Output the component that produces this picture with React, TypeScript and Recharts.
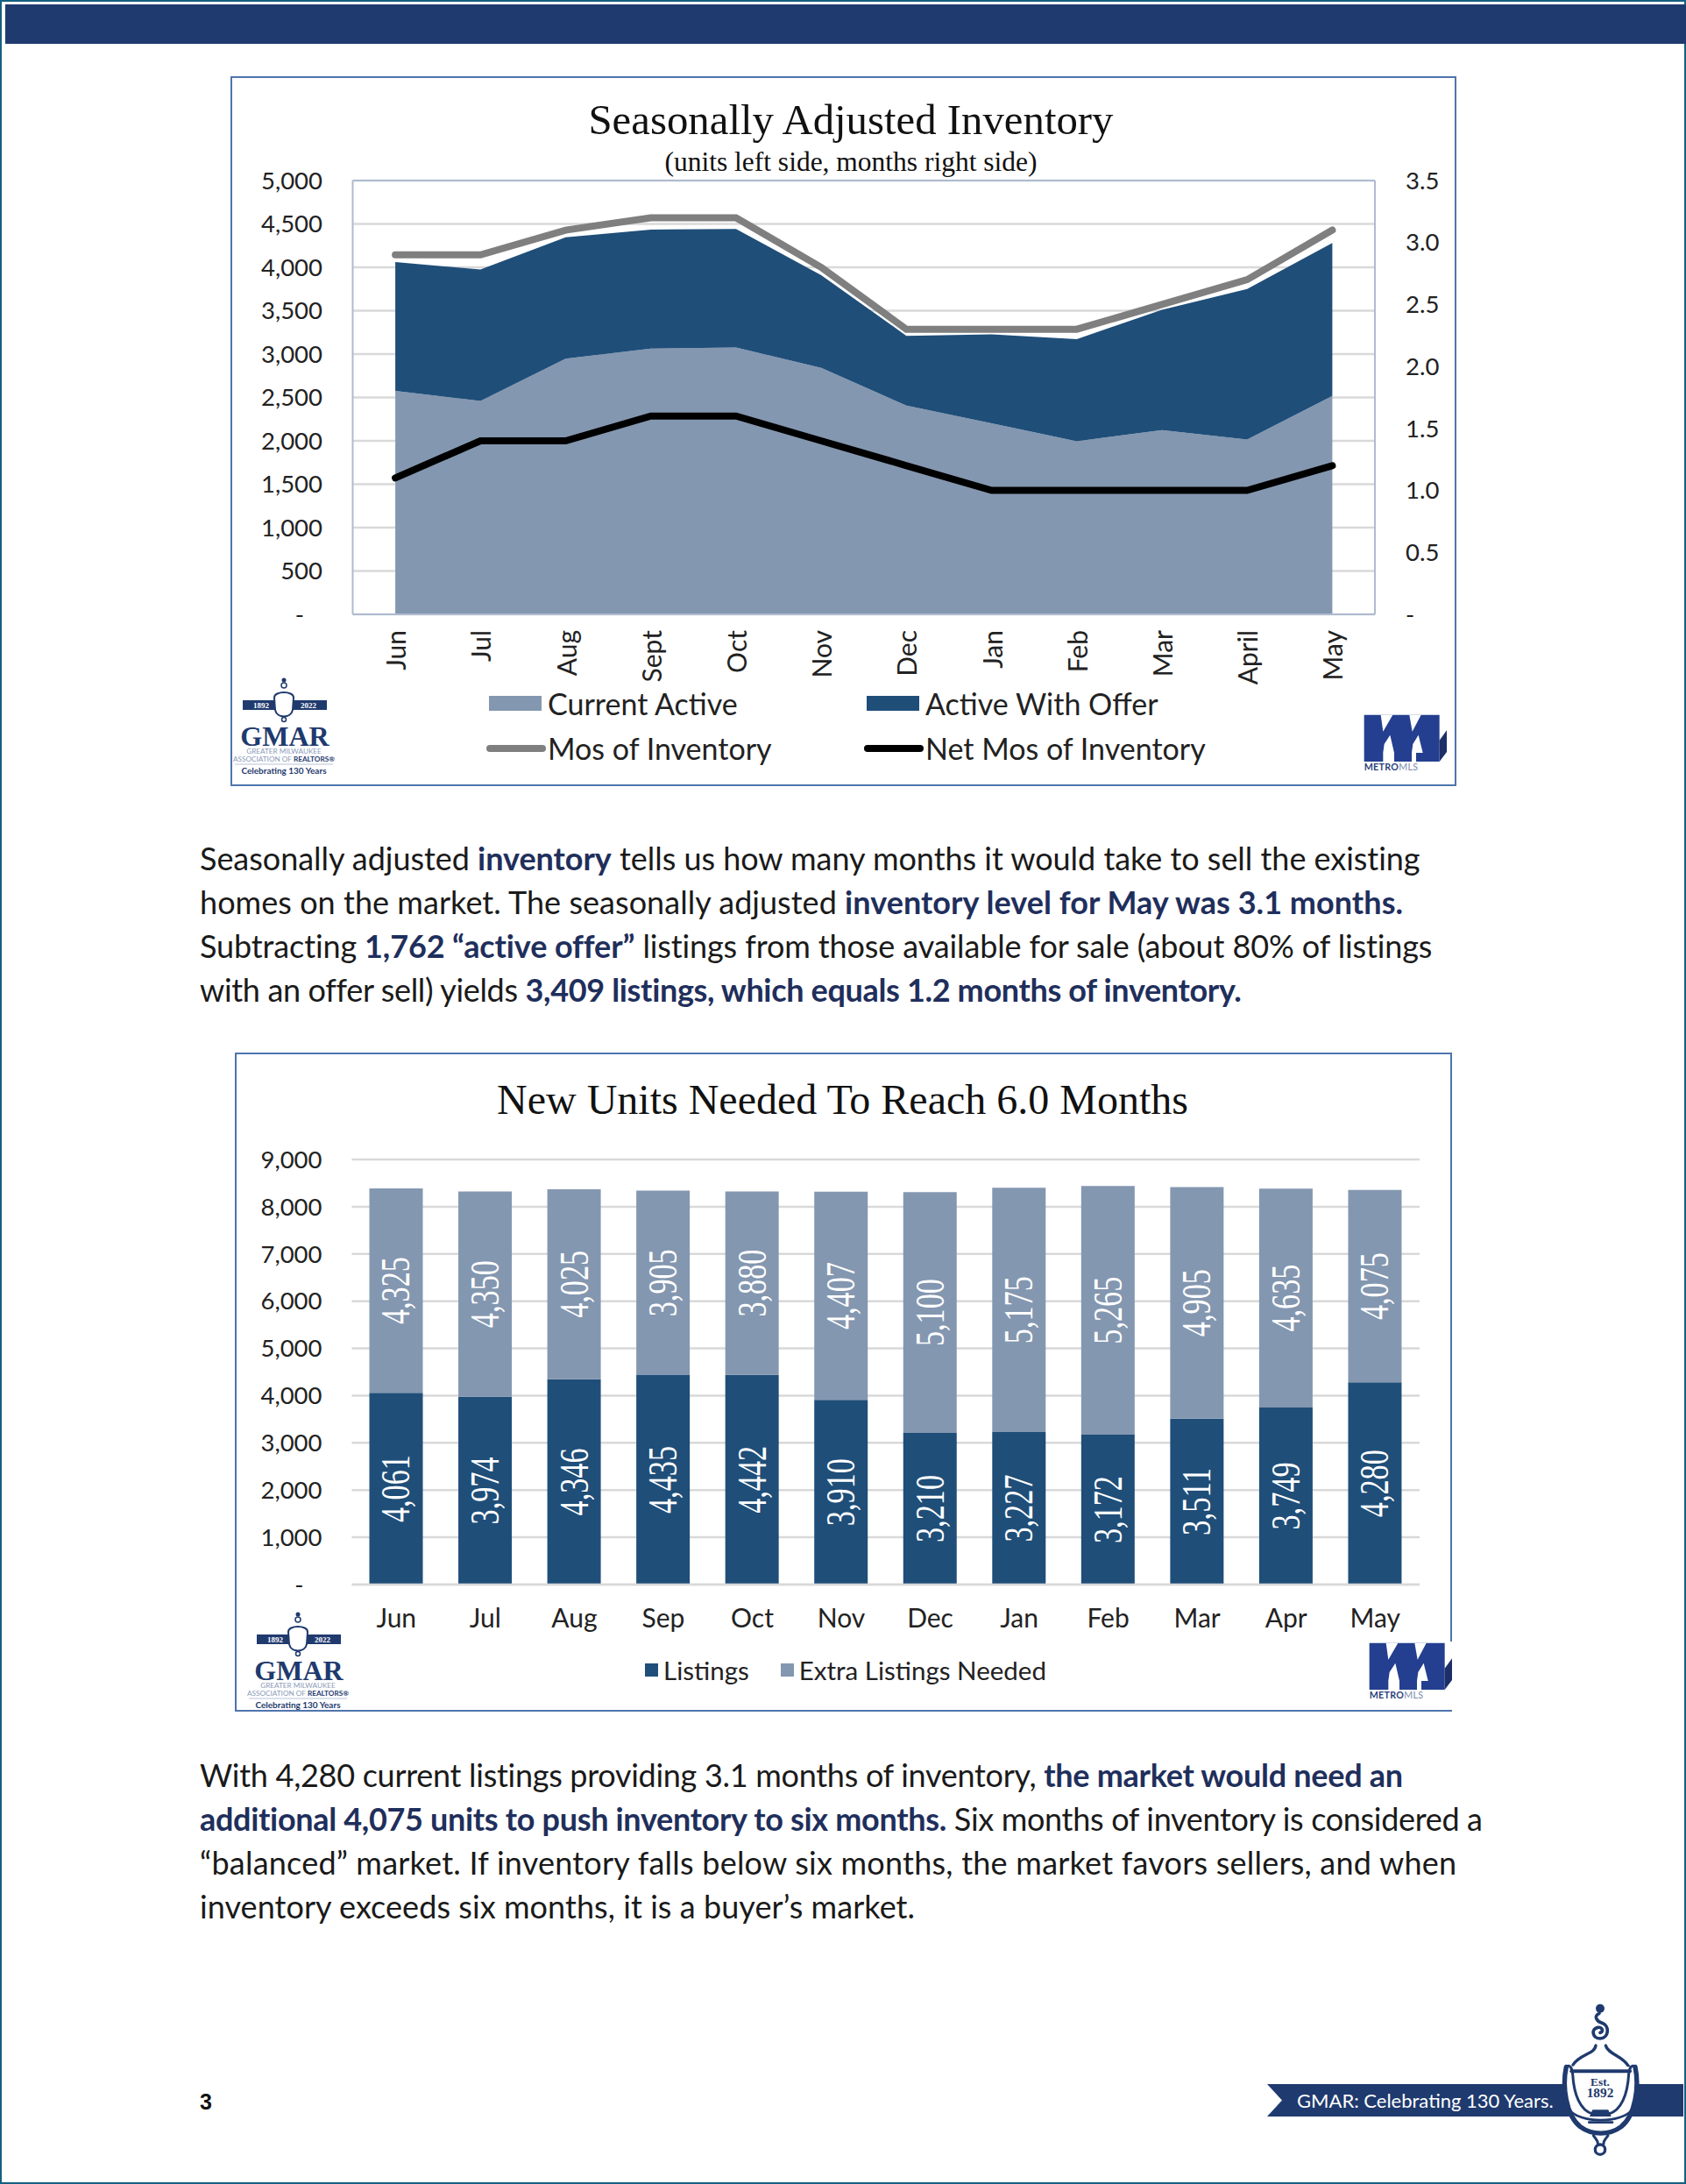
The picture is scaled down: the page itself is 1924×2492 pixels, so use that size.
import React from "react";
import {
  ComposedChart,
  BarChart,
  Area,
  Line,
  Bar,
  LabelList,
  XAxis,
  YAxis,
  CartesianGrid,
  ReferenceLine,
  Legend,
} from "recharts";

// Page 3 of the GMAR housing report: two charts plus the text around them

const inventoryMonths = ["Jun", "Jul", "Aug", "Sept", "Oct", "Nov", "Dec", "Jan", "Feb", "Mar", "April", "May"];
const currentActive = [2577, 2460, 2946, 3064, 3075, 2840, 2406, 2203, 1995, 2123, 2016, 2518];
const activeWithOffer = [1484, 1514, 1400, 1371, 1367, 1070, 804, 1024, 1177, 1388, 1733, 1762];
const mosOfInventory = [2.9, 2.9, 3.1, 3.2, 3.2, 2.8, 2.3, 2.3, 2.3, 2.5, 2.7, 3.1];
const netMosOfInventory = [1.1, 1.4, 1.4, 1.6, 1.6, 1.4, 1.2, 1.0, 1.0, 1.0, 1.0, 1.2];
const unitTicks = [0, 500, 1000, 1500, 2000, 2500, 3000, 3500, 4000, 4500, 5000];
const monthTicks = [0, 0.5, 1, 1.5, 2, 2.5, 3, 3.5];

const neededMonths = ["Jun", "Jul", "Aug", "Sep", "Oct", "Nov", "Dec", "Jan", "Feb", "Mar", "Apr", "May"];
const listings = [4061, 3974, 4346, 4435, 4442, 3910, 3210, 3227, 3172, 3511, 3749, 4280];
const extraListings = [4325, 4350, 4025, 3905, 3880, 4407, 5100, 5175, 5265, 4905, 4635, 4075];
const neededTicks = [0, 1000, 2000, 3000, 4000, 5000, 6000, 7000, 8000, 9000];

const inventoryData = inventoryMonths.map((name, i) => ({
  name,
  active: currentActive[i],
  offer: activeWithOffer[i],
  mos: mosOfInventory[i],
  net: netMosOfInventory[i],
}));
const neededData = neededMonths.map((name, i) => ({ name, listings: listings[i], extra: extraListings[i] }));

const NAVY = "#1F3A6E";
const DARK = "#1F4E79";
const LIGHT = "#8497B0";
const GRID = "#D9D9D9";
const FRAME = "#4F74AE";
const AXIS_FONT = "Lato, sans-serif";
const BODY_FONT = "Lato, sans-serif";
const TITLE_FONT = '"Liberation Serif", serif';

const paragraphOne = [
  [["Seasonally adjusted ", 0], ["inventory", 1], [" tells us how many months it would take to sell the existing", 0]],
  [["homes on the market. The seasonally adjusted ", 0], ["inventory level for May was 3.1 months.", 1]],
  [["Subtracting ", 0], ["1,762 \u201Cactive offer\u201D", 1], [" listings from those available for sale (about 80% of listings", 0]],
  [["with an offer sell) yields ", 0], ["3,409 listings, which equals 1.2 months of inventory.", 1]],
] as [string, number][][];
const paragraphTwo = [
  [["With 4,280 current listings providing 3.1 months of inventory, ", 0], ["the market would need an", 1]],
  [["additional 4,075 units to push inventory to six months.", 1], [" Six months of inventory is considered a", 0]],
  [["\u201Cbalanced\u201D market. If inventory falls below six months, the market favors sellers, and when", 0]],
  [["inventory exceeds six months, it is a buyer\u2019s market.", 0]],
] as [string, number][][];
// Lato is not the report's font, so each line is nudged to end where the original does
const paragraphOneSpacing = [-0.035, 0.04, -0.12, -0.34];
const paragraphTwoSpacing = [-0.29, -0.32, 0.23, 0.06];

// the source uses an accounting format: zero is a dash set back from the edge
const dashZero = (v: number, digits: number, pad = "") =>
  v === 0 ? "-" + pad : v.toLocaleString("en-US", { minimumFractionDigits: digits, maximumFractionDigits: digits });

function Paragraph({ lines, spacing, top }: { lines: [string, number][][]; spacing: number[]; top: number }) {
  return (
    <>
      {lines.map((runs, i) => (
        <div
          key={i}
          style={{
            position: "absolute",
            left: 228,
            top: top + i * 50.3,
            lineHeight: "50px",
            whiteSpace: "nowrap",
            fontFamily: BODY_FONT,
            fontSize: 36,
            letterSpacing: spacing[i],
            color: "#1a1a1a",
          }}
        >
          {runs.map(([t, b], j) =>
            b ? (
              <b key={j} style={{ color: "#1F2F5C" }}>
                {t}
              </b>
            ) : (
              <span key={j}>{t}</span>
            )
          )}
        </div>
      ))}
    </>
  );
}

function ChartTitle({ text, center, top, size }: { text: string; center: number; top: number; size: number }) {
  return (
    <div
      style={{
        position: "absolute",
        left: center - 500,
        width: 1000,
        top,
        textAlign: "center",
        fontFamily: TITLE_FONT,
        fontSize: size,
        lineHeight: 1.2,
        color: "#111",
        whiteSpace: "nowrap",
      }}
    >
      {text}
    </div>
  );
}

function GmarLogo({ left, top }: { left: number; top: number }) {
  return (
    <svg style={{ position: "absolute", left, top }} width={150} height={130}>
      <rect x={27} y={39} width={96} height={11} fill={NAVY} />
      <text x={48} y={48} textAnchor="middle" fontSize={9} fill="#fff" fontWeight={700} fontFamily={TITLE_FONT}>1892</text>
      <text x={102} y={48} textAnchor="middle" fontSize={9} fill="#fff" fontWeight={700} fontFamily={TITLE_FONT}>2022</text>
      <circle cx={74} cy={16} r={2.5} fill={NAVY} />
      <circle cx={74} cy={22} r={3} fill="none" stroke={NAVY} strokeWidth={1.5} />
      <path d="M63 36 C63 28 85 28 85 36 L84 50 C82 60 66 60 64 50 Z" fill="#fff" stroke={NAVY} strokeWidth={2} />
      <circle cx={74} cy={61} r={2.5} fill="none" stroke={NAVY} strokeWidth={1.5} />
      <text x={75} y={91} textAnchor="middle" fontSize={32} fontWeight={700} fill={NAVY} fontFamily={TITLE_FONT}>GMAR</text>
      <text x={74} y={100} textAnchor="middle" fontSize={8.2} fill="#8A9AB8" fontFamily={AXIS_FONT}>GREATER MILWAUKEE</text>
      <text x={74} y={109} textAnchor="middle" fontSize={8.2} fill="#8A9AB8" fontFamily={AXIS_FONT}>
        ASSOCIATION OF <tspan fontWeight={700} fill={NAVY}>REALTORS®</tspan>
      </text>
      <line x1={18} x2={130} y1={112} y2={112} stroke="#B8C4D8" strokeWidth={1} />
      <text x={74} y={123} textAnchor="middle" fontSize={10} fontWeight={700} fill={NAVY} fontFamily={AXIS_FONT}>Celebrating 130 Years</text>
    </svg>
  );
}

function MetroLogo({ left, top, width, blank }: { left: number; top: number; width: number; blank?: boolean }) {
  return (
    <svg style={{ position: "absolute", left, top, background: blank ? "#fff" : "transparent" }} width={width} height={78} viewBox={`0 0 ${width * 3} 234`}>
      <path d="M47 5 H305 V135 H47 Z" fill="#243F8F" />
      <path d="M305 92 L330 58 V132 L305 165 Z" fill="#1D2F66" />
      <path d="M305 135 V165 H225 V135 Z" fill="#243F8F" />
      <path d="M104 5 H145 L112 62 Z" fill="#fff" />
      <path d="M202 5 H242 L212 62 Z" fill="#fff" />
      <path d="M112 135 L116 105 L136 74 L150 135 Z" fill="#fff" />
      <path d="M210 135 L214 105 L233 74 L248 135 Z" fill="#fff" />
      <rect x={47} y={135} width={65} height={30} fill="#243F8F" />
      <rect x={150} y={135} width={60} height={30} fill="#243F8F" />
      <text x={47} y={194} fontSize={32} fontWeight={700} fill="#2A3F7A" fontFamily={AXIS_FONT} letterSpacing={1}>
        METRO<tspan fontWeight={400} fill="#7A8AAD">MLS</tspan>
      </text>
    </svg>
  );
}

function Knocker() {
  const s = { fill: "none", stroke: NAVY, strokeLinecap: "round" as const };
  return (
    <svg style={{ position: "absolute", left: 1760, top: 2280 }} width={130} height={190} viewBox="0 0 390 570">
      <circle cx={198} cy={35} r={15} fill={NAVY} />
      <path d="M195 52 C172 62 190 82 205 85 C232 95 228 136 198 138 C172 138 165 105 190 100 C205 98 212 115 198 118" {...s} strokeWidth={11} />
      <path d="M183 162 C180 192 128 190 105 228" {...s} strokeWidth={10} />
      <path d="M217 162 C225 192 272 195 295 232" {...s} strokeWidth={10} />
      <path d="M82 235 C68 300 80 400 130 440 C170 470 230 470 270 440 C320 400 332 300 318 235" {...s} strokeWidth={16} fill="#fff" />
      <path d="M82 235 C95 225 102 240 104 260 C108 330 130 385 172 396" {...s} strokeWidth={9} />
      <path d="M318 235 C305 225 298 240 296 260 C292 330 270 385 228 396" {...s} strokeWidth={9} />
      <path d="M100 250 H300" {...s} strokeWidth={12} />
      <path d="M172 382 H226 L236 405 H162 Z" fill={NAVY} />
      <path d="M92 380 C125 430 275 430 308 380" {...s} strokeWidth={8} />
      <path d="M160 425 H240" {...s} strokeWidth={8} />
      <path d="M175 470 C185 485 190 485 190 498 M225 470 C215 485 210 485 210 498" {...s} strokeWidth={9} />
      <circle cx={198} cy={518} r={17} {...s} strokeWidth={10} />
      <text x={198} y={300} textAnchor="middle" fontSize={40} fontWeight={700} fill={NAVY} fontFamily={TITLE_FONT}>Est.</text>
      <text x={198} y={340} textAnchor="middle" fontSize={46} fontWeight={700} fill={NAVY} fontFamily={TITLE_FONT}>1892</text>
    </svg>
  );
}

function RotatedMonth({ x, y, payload }: any) {
  return (
    <text
      x={x}
      y={y}
      transform={`rotate(-90 ${x} ${y})`}
      textAnchor="end"
      dominantBaseline="central"
      fontSize={30}
      fontFamily={AXIS_FONT}
      fill="#222"
    >
      {payload.value}
    </text>
  );
}

function InventoryLegend({ payload }: any) {
  return (
    <div style={{ display: "grid", gridTemplateColumns: "431px 431px", rowGap: 14, fontFamily: AXIS_FONT, fontSize: 34, color: "#222" }}>
      {(payload || []).map((p: any) => {
        const isLine = p.type === "line";
        return (
          <div key={p.value} style={{ display: "flex", alignItems: "center", height: 37 }}>
            <span
              style={{
                display: "inline-block",
                width: isLine ? 68 : 60,
                height: isLine ? 8 : 17,
                marginLeft: isLine ? -3 : 0,
                marginRight: isLine ? 2 : 7,
                borderRadius: isLine ? 4 : 0,
                background: p.color,
              }}
            />
            <span>{p.value}</span>
          </div>
        );
      })}
    </div>
  );
}

function NeededLegend({ payload }: any) {
  return (
    <div style={{ display: "flex", fontFamily: AXIS_FONT, fontSize: 29.5, color: "#222" }}>
      {(payload || []).map((p: any) => (
        <div key={p.value} style={{ display: "flex", alignItems: "center", marginRight: 36 }}>
          <span style={{ display: "inline-block", width: 15, height: 15, marginRight: 6, background: p.color }} />
          <span>{p.value}</span>
        </div>
      ))}
    </div>
  );
}

function BarValue({ x, y, width, height, value }: any) {
  const cx = x + width / 2;
  const cy = y + height / 2;
  return (
    <text
      x={cx}
      y={cy}
      transform={`rotate(-90 ${cx} ${cy})`}
      textAnchor="middle"
      dominantBaseline="central"
      fontFamily={TITLE_FONT}
      fontSize={46}
      textLength={77}
      lengthAdjust="spacingAndGlyphs"
      fill="#fff"
    >
      {Number(value).toLocaleString("en-US")}
    </text>
  );
}

export default function App() {
  return (
    <div style={{ position: "absolute", left: 0, top: 0, width: 1924, height: 2492, background: "#fff", overflow: "hidden" }}>
      {/* page border and banner */}
      <div style={{ position: "absolute", inset: 0, border: "2.5px solid #156082", boxSizing: "border-box" }} />
      <div style={{ position: "absolute", left: 6, top: 5, width: 1918, height: 45, background: NAVY }} />

      {/* first chart */}
      <div style={{ position: "absolute", left: 263, top: 87, width: 1399, height: 810, border: `2.5px solid ${FRAME}`, boxSizing: "border-box" }} />
      <div style={{ position: "absolute", left: 263, top: 87 }}>
        <ComposedChart width={1399} height={810} data={inventoryData} margin={{ top: 119, right: 0, bottom: 0, left: 0 }}>
          <CartesianGrid vertical={false} stroke={GRID} strokeWidth={2.5} yAxisId="left" />
          <XAxis
            dataKey="name"
            scale="point"
            padding={{ left: 48.6, right: 48.6 }}
            height={196}
            axisLine={{ stroke: "#AEBBD0", strokeWidth: 2 }}
            tickLine={false}
            tickMargin={12}
            interval={0}
            tick={RotatedMonth}
          />
          <YAxis
            yAxisId="left"
            width={139.5}
            domain={[0, 5000]}
            ticks={unitTicks}
            interval={0}
            tickFormatter={(v: number) => dashZero(v, 0, "\u00A0\u00A0\u00A0")}
            axisLine={{ stroke: "#AEBBD0", strokeWidth: 2 }}
            tickLine={false}
            tickMargin={28.5}
            tick={{ fontSize: 27.5, fontFamily: AXIS_FONT, fill: "#222" }}
          />
          <YAxis
            yAxisId="right"
            orientation="right"
            width={93}
            domain={[0, 3.5]}
            ticks={monthTicks}
            interval={0}
            tickFormatter={(v: number) => dashZero(v, 1)}
            axisLine={{ stroke: "#AEBBD0", strokeWidth: 2 }}
            tickLine={false}
            tickMargin={29}
            tick={{ fontSize: 27.5, fontFamily: AXIS_FONT, fill: "#222" }}
          />
          <ReferenceLine yAxisId="left" y={5000} stroke="#AEBBD0" strokeWidth={2} />
          <Area yAxisId="left" dataKey="active" name="Current Active" legendType="rect" stackId="a" type="linear" stroke="none" fill={LIGHT} fillOpacity={1} isAnimationActive={false} />
          <Area yAxisId="left" dataKey="offer" name="Active With Offer" legendType="rect" stackId="a" type="linear" stroke="none" fill={DARK} fillOpacity={1} isAnimationActive={false} />
          <Line yAxisId="right" dataKey="mos" name="Mos of Inventory" type="linear" stroke="#7F7F7F" strokeWidth={8} strokeLinecap="round" dot={false} isAnimationActive={false} />
          <Line yAxisId="right" dataKey="net" name="Net Mos of Inventory" type="linear" stroke="#000" strokeWidth={8} strokeLinecap="round" dot={false} isAnimationActive={false} />
          <Legend
            layout="horizontal"
            align="center"
            verticalAlign="middle"
            itemSorter={null}
            content={InventoryLegend}
            wrapperStyle={{ left: 295, top: 697, width: 900, bottom: "auto", right: "auto", margin: 0 }}
          />
        </ComposedChart>
      </div>
      <ChartTitle text="Seasonally Adjusted Inventory" center={971} top={108} size={48.8} />
      <ChartTitle text="(units left side, months right side)" center={971} top={166} size={31.5} />
      <GmarLogo left={250} top={760} />
      <MetroLogo left={1541} top={814} width={117} />

      <Paragraph lines={paragraphOne} spacing={paragraphOneSpacing} top={953.5} />

      {/* second chart */}
      <div style={{ position: "absolute", left: 268, top: 1201, width: 1389, height: 752, border: `2.5px solid ${FRAME}`, boxSizing: "border-box" }} />
      <div style={{ position: "absolute", left: 268, top: 1201 }}>
        <BarChart width={1389} height={752} data={neededData} margin={{ top: 122, right: 37, bottom: 0, left: 0 }}>
          <CartesianGrid vertical={false} stroke={GRID} strokeWidth={2.5} />
          <XAxis
            dataKey="name"
            height={145}
            axisLine={{ stroke: GRID, strokeWidth: 2.5 }}
            tickLine={false}
            tickMargin={22}
            interval={0}
            tick={{ fontSize: 30, fontFamily: AXIS_FONT, fill: "#222" }}
          />
          <YAxis
            width={133.5}
            domain={[0, 9000]}
            ticks={neededTicks}
            interval={0}
            tickFormatter={(v: number) => dashZero(v, 0, "\u00A0\u00A0\u00A0")}
            axisLine={false}
            tickLine={false}
            tickMargin={28}
            tick={{ fontSize: 27.5, fontFamily: AXIS_FONT, fill: "#222" }}
          />
          <Bar dataKey="listings" name="Listings" stackId="a" fill={DARK} barSize={61} isAnimationActive={false}>
            <LabelList dataKey="listings" content={BarValue} />
          </Bar>
          <Bar dataKey="extra" name="Extra Listings Needed" stackId="a" fill={LIGHT} barSize={61} isAnimationActive={false}>
            <LabelList dataKey="extra" content={BarValue} />
          </Bar>
          <Legend
            layout="horizontal"
            align="center"
            verticalAlign="middle"
            itemSorter={null}
            content={NeededLegend}
            wrapperStyle={{ left: 468, top: 687, width: 780, bottom: "auto", right: "auto", margin: 0 }}
          />
        </BarChart>
      </div>
      <ChartTitle text="New Units Needed To Reach 6.0 Months" center={961.5} top={1226} size={48} />
      <GmarLogo left={266} top={1826} />
      <MetroLogo left={1547} top={1873} width={110} blank />

      <Paragraph lines={paragraphTwo} spacing={paragraphTwoSpacing} top={1999.5} />

      {/* footer */}
      <div style={{ position: "absolute", left: 228, top: 2384, fontFamily: "Liberation Sans, sans-serif", fontWeight: 700, fontSize: 25, color: "#111" }}>3</div>
      <svg style={{ position: "absolute", left: 1440, top: 2370 }} width={484} height={50}>
        <path d="M6 8 H345 L351 45 H6 L23 26.5 Z" fill={NAVY} />
        <path d="M426 8 H481 V45 H421 Z" fill={NAVY} />
        <text x={40} y={35} fontSize={22} fill="#fff" fontFamily={BODY_FONT}>GMAR: Celebrating 130 Years.</text>
      </svg>
      <Knocker />
    </div>
  );
}
